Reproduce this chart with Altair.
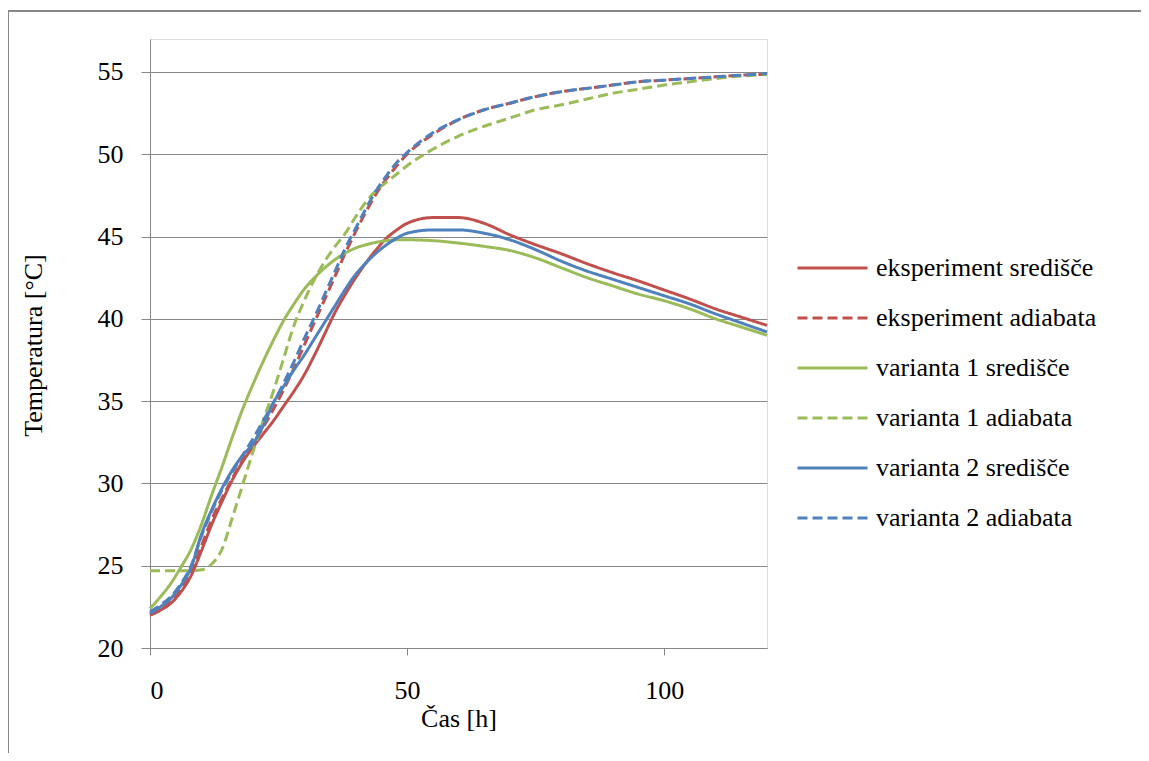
import altair as alt
import pandas as pd

time_h = [0, 2, 4, 6, 8, 10, 12, 14, 16, 18, 20, 22, 24, 26, 28, 30, 32, 34, 36, 38,
          40, 42, 44, 46, 48, 50, 55, 60, 65, 70, 75, 80, 85, 90, 95, 100, 105, 110, 115, 120]

eksperiment_sredisce = [22.0, 22.3, 22.7, 23.4, 24.4, 25.9, 27.5, 28.9, 30.2, 31.3, 32.2, 33.0, 33.8, 34.7, 35.6, 36.6, 37.8, 39.1, 40.4, 41.5,
                        42.5, 43.4, 44.2, 44.9, 45.4, 45.8, 46.15, 46.15, 45.8, 45.1, 44.5, 43.95, 43.35, 42.8, 42.3, 41.75, 41.2, 40.6, 40.1, 39.6]
eksperiment_adiabata = [22.0, 22.3, 22.8, 23.5, 24.6, 26.2, 27.8, 29.1, 30.3, 31.4, 32.4, 33.4, 34.5, 35.7, 37.0, 38.4, 39.8, 41.2, 42.6, 44.0,
                        45.3, 46.5, 47.6, 48.5, 49.3, 50.0, 51.2, 52.1, 52.7, 53.1, 53.5, 53.8, 54.0, 54.2, 54.4, 54.5, 54.6, 54.7, 54.8, 54.85]
varianta1_sredisce = [22.4, 23.1, 23.9, 24.9, 26.0, 27.5, 29.3, 31.0, 32.8, 34.5, 36.0, 37.4, 38.7, 39.9, 40.9, 41.8, 42.5, 43.1, 43.6, 44.0,
                      44.3, 44.5, 44.65, 44.75, 44.8, 44.8, 44.75, 44.6, 44.4, 44.15, 43.7, 43.1, 42.5, 42.0, 41.5, 41.1, 40.6, 40.0, 39.5, 39.0]
varianta1_adiabata = [24.7, 24.7, 24.7, 24.7, 24.7, 24.75, 25.1, 26.0, 27.9, 29.9, 31.9, 33.8, 35.6, 37.6, 39.6, 41.1, 42.4, 43.5, 44.4, 45.2,
                      46.2, 47.1, 47.8, 48.3, 48.8, 49.3, 50.3, 51.1, 51.7, 52.2, 52.7, 53.0, 53.35, 53.7, 53.95, 54.2, 54.4, 54.6, 54.75, 54.85]
varianta2_sredisce = [22.1, 22.5, 23.0, 23.8, 24.9, 26.9, 28.4, 29.7, 30.8, 31.7, 32.4, 33.5, 34.9, 35.9, 36.9, 37.8, 38.8, 39.8, 40.8, 41.8,
                      42.7, 43.4, 44.0, 44.5, 44.9, 45.2, 45.4, 45.4, 45.2, 44.8, 44.2, 43.5, 42.9, 42.4, 41.9, 41.4, 40.9, 40.3, 39.75, 39.2]
varianta2_adiabata = [22.2, 22.6, 23.1, 23.9, 25.0, 26.8, 28.3, 29.6, 30.7, 31.7, 32.7, 33.8, 34.9, 36.1, 37.4, 38.8, 40.1, 41.5, 42.9, 44.3,
                      45.5, 46.7, 47.8, 48.7, 49.5, 50.1, 51.3, 52.1, 52.7, 53.1, 53.5, 53.8, 54.0, 54.2, 54.4, 54.5, 54.6, 54.7, 54.8, 54.9]

series_names = ["eksperiment središče", "eksperiment adiabata",
                "varianta 1 središče", "varianta 1 adiabata",
                "varianta 2 središče", "varianta 2 adiabata"]
series_values = [eksperiment_sredisce, eksperiment_adiabata,
                 varianta1_sredisce, varianta1_adiabata,
                 varianta2_sredisce, varianta2_adiabata]
series_colors = ["#C0504D", "#C0504D", "#9BBB59", "#9BBB59", "#4F81BD", "#4F81BD"]
series_dashes = [[1, 0], [10, 5], [1, 0], [10, 5], [1, 0], [10, 5]]

y_ticks = [20, 25, 30, 35, 40, 45, 50, 55]
x_ticks = [0, 50, 100]

rows = []
for name, vals in zip(series_names, series_values):
    for t, v in zip(time_h, vals):
        rows.append({"t": t, "T": v, "serija": name})
df = pd.DataFrame(rows)

FONT = "Liberation Serif"
GRAY = "#878787"

legend_opts = dict(title=None, orient="none", legendX=646, legendY=192.5,
                   symbolType="stroke", symbolSize=4900, symbolStrokeWidth=3,
                   labelFont=FONT, labelFontWeight="normal", labelFontSize=26,
                   labelColor="black", labelLimit=0, labelOffset=7, rowPadding=-2.9)

lines = alt.Chart(df).mark_line(strokeWidth=3, interpolate="monotone").encode(
    x=alt.X("t:Q", scale=alt.Scale(domain=[0, 120], nice=False),
            axis=alt.Axis(values=x_ticks, grid=False, domainColor=GRAY, tickColor=GRAY,
                          tickSize=7, labelFont=FONT, labelFontWeight="normal",
                          labelFontSize=26, labelColor="black",
                          labelPadding=22, title="Čas [h]", titleFont=FONT, titleFontSize=26,
                          titleFontWeight="normal", titleColor="black",
                          titleY=78, titleBaseline="alphabetic")),
    y=alt.Y("T:Q", scale=alt.Scale(domain=[20, 57], nice=False, zero=False),
            axis=alt.Axis(values=y_ticks, grid=True, gridColor=GRAY, gridWidth=1,
                          domainColor=GRAY, tickColor=GRAY, tickSize=9,
                          labelFont=FONT, labelFontWeight="normal", labelFontSize=26,
                          labelColor="black", labelPadding=18,
                          title="Temperatura [°C]", titleFont=FONT, titleFontSize=26,
                          titleFontWeight="normal", titleColor="black",
                          titleAngle=-90, titleX=-117, titleY=306,
                          titleAlign="center", titleBaseline="middle")),
    color=alt.Color("serija:N", scale=alt.Scale(domain=series_names, range=series_colors),
                    legend=alt.Legend(**legend_opts)),
    strokeDash=alt.StrokeDash("serija:N", scale=alt.Scale(domain=series_names, range=series_dashes),
                              legend=alt.Legend(**legend_opts)),
)

frame = alt.Chart(alt.Data(values=[{}])).mark_rect(fill=None, stroke=GRAY, strokeWidth=2).encode(
    x=alt.value(-142), x2=alt.value(1000), y=alt.value(-28), y2=alt.value(760)
)

chart = alt.layer(frame, lines).properties(
    width=617, height=609,
    padding={"left": 142, "top": 31, "right": 374, "bottom": 105},
    autosize=alt.AutoSizeParams(type="none"),
).configure_view(stroke=None).configure(
    background="white", font=FONT,
    style={"guide-label": {"font": FONT}, "guide-title": {"font": FONT}},
).configure_axis(labelFont=FONT).configure_legend(labelFont=FONT)

chart.save("out.html", embed_options={"renderer": "svg", "actions": False})
